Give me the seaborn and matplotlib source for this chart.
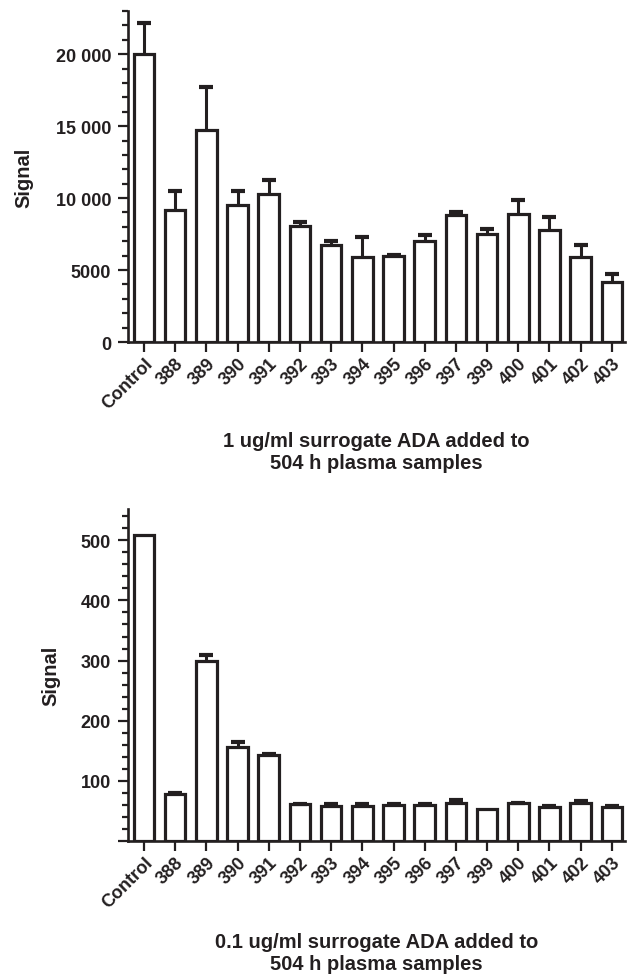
import numpy as np
import pandas as pd
from matplotlib import pyplot as plt
from matplotlib.ticker import MultipleLocator, FixedLocator
import seaborn as sns

sns.set_style("ticks")
plt.rcParams['font.family'] = ['Liberation Sans', 'DejaVu Sans']
plt.rcParams['font.weight'] = 'bold'

# data
samples = ['Control', '388', '389', '390', '391', '392', '393', '394',
           '395', '396', '397', '399', '400', '401', '402', '403']
signal_1ug = [20000, 9150, 14720, 9500, 10270, 8060, 6710, 5940,
              5970, 7020, 8800, 7530, 8870, 7760, 5900, 4160]
err_1ug = [2200, 1320, 3030, 970, 1020, 280, 280, 1350,
           100, 440, 240, 340, 1000, 930, 810, 580]
signal_01ug = [508, 78, 300, 156, 143, 61, 58, 59,
               60, 60, 64, 54, 63, 57, 63, 56]
err_01ug = [0, 2, 10, 8, 2, 1, 3, 2, 1, 1, 4, 0, 1, 2, 3, 2]

ink = '#231f20'

fig = plt.figure(figsize=(6.3, 9.78), dpi=100)
ax1 = fig.add_axes([128/630, 1-343/978, 497/630, 331/978])
ax2 = fig.add_axes([128/630, 1-842/978, 497/630, 332/978])


def draw_panel(ax, values, errs, ymax, major, minor, ylabels, xlabel, ylab_x):
    df = pd.DataFrame({'sample': samples, 'signal': values})
    sns.barplot(data=df, x='sample', y='signal', ax=ax, color='white',
                edgecolor=ink, linewidth=2.3, width=0.66, errorbar=None,
                saturation=1)
    x = np.arange(len(samples))
    v = np.array(values, dtype=float)
    e = np.array(errs, dtype=float)
    ax.errorbar(x, v, yerr=[np.zeros_like(e), e], fmt='none', ecolor=ink,
                elinewidth=2.2, capsize=0, zorder=3)
    m = e > 0
    ax.plot(x[m], (v + e)[m], ls='none', marker='_', ms=9.5, mew=3,
            color=ink, zorder=3)

    ax.set_xlim(-0.51, 15.42)
    ax.set_ylim(0, ymax)
    ax.yaxis.set_major_locator(FixedLocator(major))
    ax.set_yticklabels(ylabels)
    ax.yaxis.set_minor_locator(MultipleLocator(minor))
    sns.despine(ax=ax)
    for s in ['left', 'bottom']:
        ax.spines[s].set_linewidth(1.9)
        ax.spines[s].set_color(ink)
    ax.tick_params(axis='y', which='major', length=7.2, width=1.6,
                   color=ink, labelsize=13, pad=5, labelcolor=ink)
    ax.tick_params(axis='y', which='minor', length=4.2, width=1.6, color=ink)
    ax.tick_params(axis='x', length=7.2, width=1.6, color=ink,
                   labelsize=13, pad=2, labelcolor=ink)
    for lab in ax.get_xticklabels():
        lab.set_rotation(45)
        lab.set_ha('right')
        lab.set_rotation_mode('anchor')
        lab.set_fontweight('bold')
    for lab in ax.get_yticklabels():
        lab.set_fontweight('bold')

    ax.set_xlabel(xlabel, fontsize=14.5, fontweight='bold', color=ink,
                  linespacing=1.15)
    ax.set_ylabel('Signal', fontsize=14.5, fontweight='bold', color=ink)
    ax.yaxis.set_label_coords(ylab_x, 0.5)


draw_panel(ax1, signal_1ug, err_1ug, 23000,
           [0, 5000, 10000, 15000, 20000], 1000,
           ['0', '5000', '10 000', '15 000', '20 000'],
           '1 ug/ml surrogate ADA added to\n504 h plasma samples', -0.19)
ax1.xaxis.set_label_coords(0.5, -0.27)

draw_panel(ax2, signal_01ug, err_01ug, 552,
           [0, 100, 200, 300, 400, 500], 20,
           ['', '100', '200', '300', '400', '500'],
           '0.1 ug/ml surrogate ADA added to\n504 h plasma samples', -0.137)
ax2.xaxis.set_label_coords(0.5, -0.275)

fig.savefig('out.png', dpi=100)
